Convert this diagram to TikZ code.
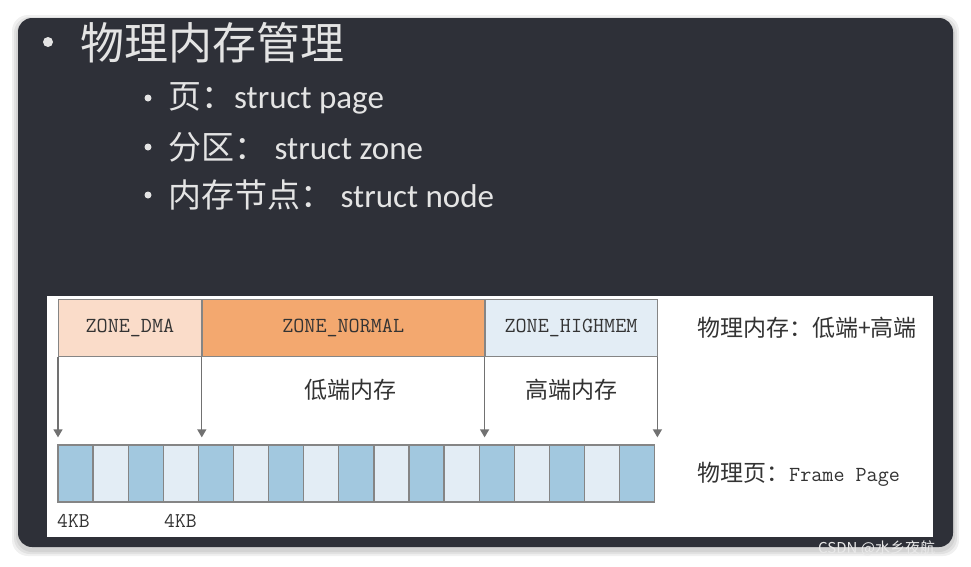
\documentclass[tikz,border=0pt]{standalone}
\usepackage{fontspec}
\setmainfont{Carlito}
\newfontfamily\cjk{Noto Sans CJK SC}
\newfontfamily\zmono{Latin Modern Mono}
\usetikzlibrary{positioning,arrows.meta,calc}
\definecolor{slate}{HTML}{2E3038}
\definecolor{chalk}{HTML}{E4E4E4}
\definecolor{peach}{HTML}{FADCC9}
\definecolor{orng}{HTML}{F3A86F}
\definecolor{frost}{HTML}{E3EDF5}
\definecolor{pgdark}{HTML}{A2C8DF}
\definecolor{pglight}{HTML}{E3EDF5}
\definecolor{edge}{HTML}{858585}
\definecolor{ink}{HTML}{333333}
\tikzset{zone/.style={draw=edge,line width=0.8pt,minimum height=57,inner sep=0pt,anchor=north west,font=\zmono\fontsize{21.5}{21.5}\selectfont,text=ink},
         pg/.style={draw=edge,line width=1.3pt,minimum width=35.1,minimum height=57,inner sep=0pt},
         lbl/.style={font=\cjk\fontsize{23}{23}\selectfont,text=ink,inner sep=0pt},
         mono/.style={font=\zmono\fontsize{21}{21}\selectfont,text=ink,inner sep=0pt},
         head/.style={font=\cjk\fontsize{44}{44}\selectfont,text=chalk,inner sep=0pt,anchor=west},
         item/.style={font=\fontsize{33}{33}\selectfont,text=chalk,inner sep=0pt,anchor=west},
         dot/.style={circle,fill=chalk,inner sep=0pt,minimum size=#1},
         arr/.style={-{Triangle[length=8pt,width=9pt]},draw=edge!85!black,line width=1.3pt,shorten >=7pt}}

\begin{document}
\begin{tikzpicture}[x=1pt,y=-1pt]
 \useasboundingbox (0,0) rectangle (971,566);
 \fill[white] (0,0) rectangle (971,566);
 % slide and shadow
 \foreach \s in {6,4,2} \fill[black,opacity=0.06,rounded corners=16] (18-\s,18-\s+3) rectangle (953+\s,547+\s+3);
 \fill[slate,rounded corners=14] (18,18) rectangle (953,547);
 \fill[white] (47,296) rectangle (933,537);
 % bullets
 \node[dot=10pt] (b0) at (48,42) {};
 \node[head] (ttl) at (80,43) {物理内存管理};
 \node[dot=7pt] (b1) at (148,98) {};
 \node[dot=7pt] (b2) at (148,147) {};
 \node[dot=7pt] (b3) at (148,195) {};
 \node[item] (t1) at (168,98) {{\cjk 页：}struct page};
 \node[item] (t2) at (168,147) {{\cjk 分区：} struct zone};
 \node[item] (t3) at (168,195) {{\cjk 内存节点：} struct node};
 % zones
 \node[zone,fill=peach,minimum width=143] (dma) at (58,299) {ZONE\_DMA};
 \node[zone,fill=orng,minimum width=282,anchor=west] (nrm) at (dma.east) {ZONE\_NORMAL};
 \node[zone,fill=frost,minimum width=172,anchor=west] (hgh) at (nrm.east) {ZONE\_HIGHMEM};
 % page frames
 \foreach \i in {1,3,...,17} \node[pg,fill=pgdark] (p\i) at ({58+35.1*(\i-0.5)},473.5) {};
 \foreach \i in {2,4,...,16} \node[pg,fill=pglight] (p\i) at ({58+35.1*(\i-0.5)},473.5) {};
 \draw[arr] (dma.south west) -- (dma.south west |- p1.north);
 \draw[arr] (nrm.south west) -- (nrm.south west |- p5.north);
 \draw[arr] (hgh.south west) -- (hgh.south west |- p13.north);
 \draw[arr] (hgh.south east) -- (hgh.south east |- p17.north);
 \node[lbl] (lo) at (350,390) {低端内存};
 \node[lbl] (hi) at (571,390) {高端内存};
 \node[lbl,anchor=west] (mem) at (697,328) {物理内存：低端+高端};
 \node[lbl,anchor=west] (fp) at (697,474) {物理页：{\zmono\fontsize{21.5}{21.5}\selectfont Frame Page}};
 \node[mono,anchor=west] (k1) at (57,521) {4KB};
 \node[mono,anchor=west] (k2) at (164,521) {4KB};
 \node[anchor=west,inner sep=0pt,font=\cjk\fontsize{15}{15}\selectfont,text=white!82!gray] (wm) at (818,548) {CSDN @水乡夜航};
\end{tikzpicture}
\end{document}
